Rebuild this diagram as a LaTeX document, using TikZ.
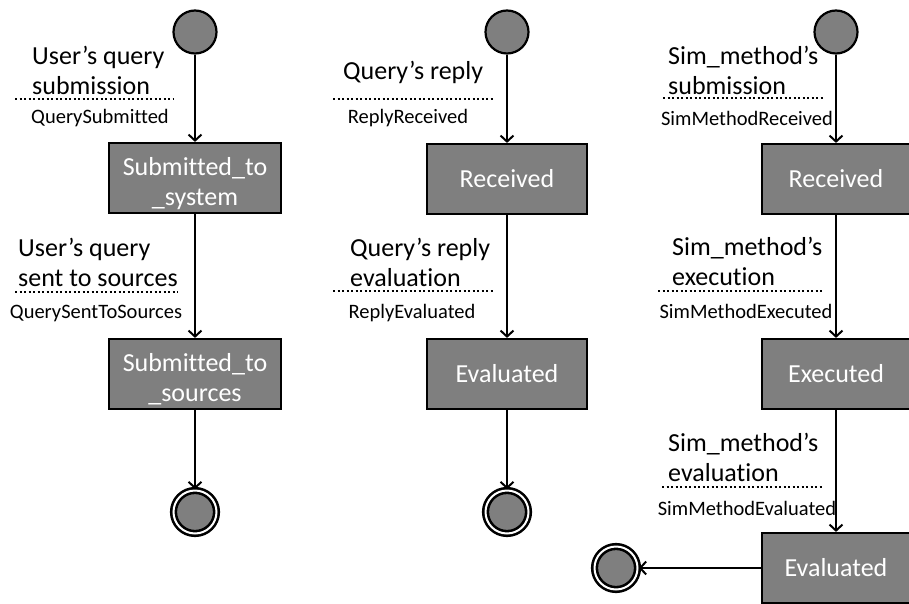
\documentclass[tikz,border=0pt]{standalone}
\usepackage{fontspec}
\setmainfont{Carlito}[Ligatures={TeX,NoCommon}]
\usetikzlibrary{arrows.meta}
\definecolor{stategray}{HTML}{7F7F7F}
\newcommand{\toplift}{\rule{0pt}{29pt}}

\begin{document}
\begin{tikzpicture}[x=1pt, y=-1pt,
    state/.style={draw, line width=2.2pt, fill=stategray, text=white, minimum height=70pt,
      align=center, inner sep=0pt, font=\fontsize{26}{30}\selectfont},
    init/.style={circle, draw, line width=2.2pt, fill=stategray, minimum size=43pt, inner sep=0pt},
    final/.style={circle, draw, line width=2.6pt, double=white, double distance=2pt,
      fill=stategray, minimum size=43pt, inner sep=0pt},
    event/.style={anchor=west, align=left, inner sep=0pt, font=\fontsize{26}{30}\selectfont},
    evname/.style={inner sep=0pt, font=\fontsize{20.5}{24}\selectfont},
    trans/.style={->, >={Straight Barb[length=6pt, width=13pt]}, line width=2pt},
    sepline/.style={line width=2pt, dash pattern=on 2pt off 2.5pt}]
  \useasboundingbox (0,0) rectangle (909,604);

  % user's query
  \node[init] (i1) at (195,32) {};
  \node[state, minimum width=172pt] (s1) at (195,178) {\toplift Submitted\_to\\\_system};
  \node[state, minimum width=172pt] (s2) at (195,374) {\toplift Submitted\_to\\\_sources};
  \node[final] (f1) at (195,512) {};
  \node[event] (ev1) at (32,70) {User's query\\submission};
  \node[evname] (n1) at (100,118) {QuerySubmitted};
  \node[event] (ev2) at (18,262) {User's query\\sent to sources};
  \node[evname] (n2) at (96,313) {QuerySentToSources};
  \draw[sepline] (15,99) -- (173,99);
  \draw[sepline] (15,292) -- (178,292);
  \draw[trans] (i1) -- (s1);
  \draw[trans] (s1) -- (s2);
  \draw[trans] (s2) -- (f1);

  % query's reply
  \node[init] (i2) at (507,32) {};
  \node[state, minimum width=160pt] (r2) at (507,179) {Received};
  \node[state, minimum width=160pt] (e2) at (507,374) {Evaluated};
  \node[final] (f2) at (507,512) {};
  \node[event] (ev3) at (343,72) {Query's reply};
  \node[evname] (n3) at (408,118) {ReplyReceived};
  \node[event] (ev4) at (350,262) {Query's reply\\evaluation};
  \node[evname] (n4) at (412,313) {ReplyEvaluated};
  \draw[sepline] (333,99) -- (493,99);
  \draw[sepline] (333,291) -- (493,291);
  \draw[trans] (i2) -- (r2);
  \draw[trans] (r2) -- (e2);
  \draw[trans] (e2) -- (f2);

  % sim_method
  \node[init] (i3) at (836,32) {};
  \node[state, minimum width=148pt] (r3) at (836,179) {Received};
  \node[state, minimum width=148pt] (x3) at (836,374) {Executed};
  \node[state, minimum width=148pt] (e3) at (836,568) {Evaluated};
  \node[final] (f3) at (616,568) {};
  \node[event] (ev5) at (668,70) {Sim\_method's\\submission};
  \node[evname] (n5) at (747,118) {SimMethodReceived};
  \node[event] (ev6) at (672,261) {Sim\_method's\\execution};
  \node[evname] (n6) at (746,311) {SimMethodExecuted};
  \node[event] (ev7) at (668,457) {Sim\_method's\\evaluation};
  \node[evname] (n7) at (747,508) {SimMethodEvaluated};
  \draw[sepline] (663,98) -- (823,98);
  \draw[sepline] (658,291) -- (823,291);
  \draw[sepline] (662,487) -- (822,487);
  \draw[trans] (i3) -- (r3);
  \draw[trans] (r3) -- (x3);
  \draw[trans] (x3) -- (e3);
  \draw[trans] (e3) -- (f3);
\end{tikzpicture}
\end{document}
